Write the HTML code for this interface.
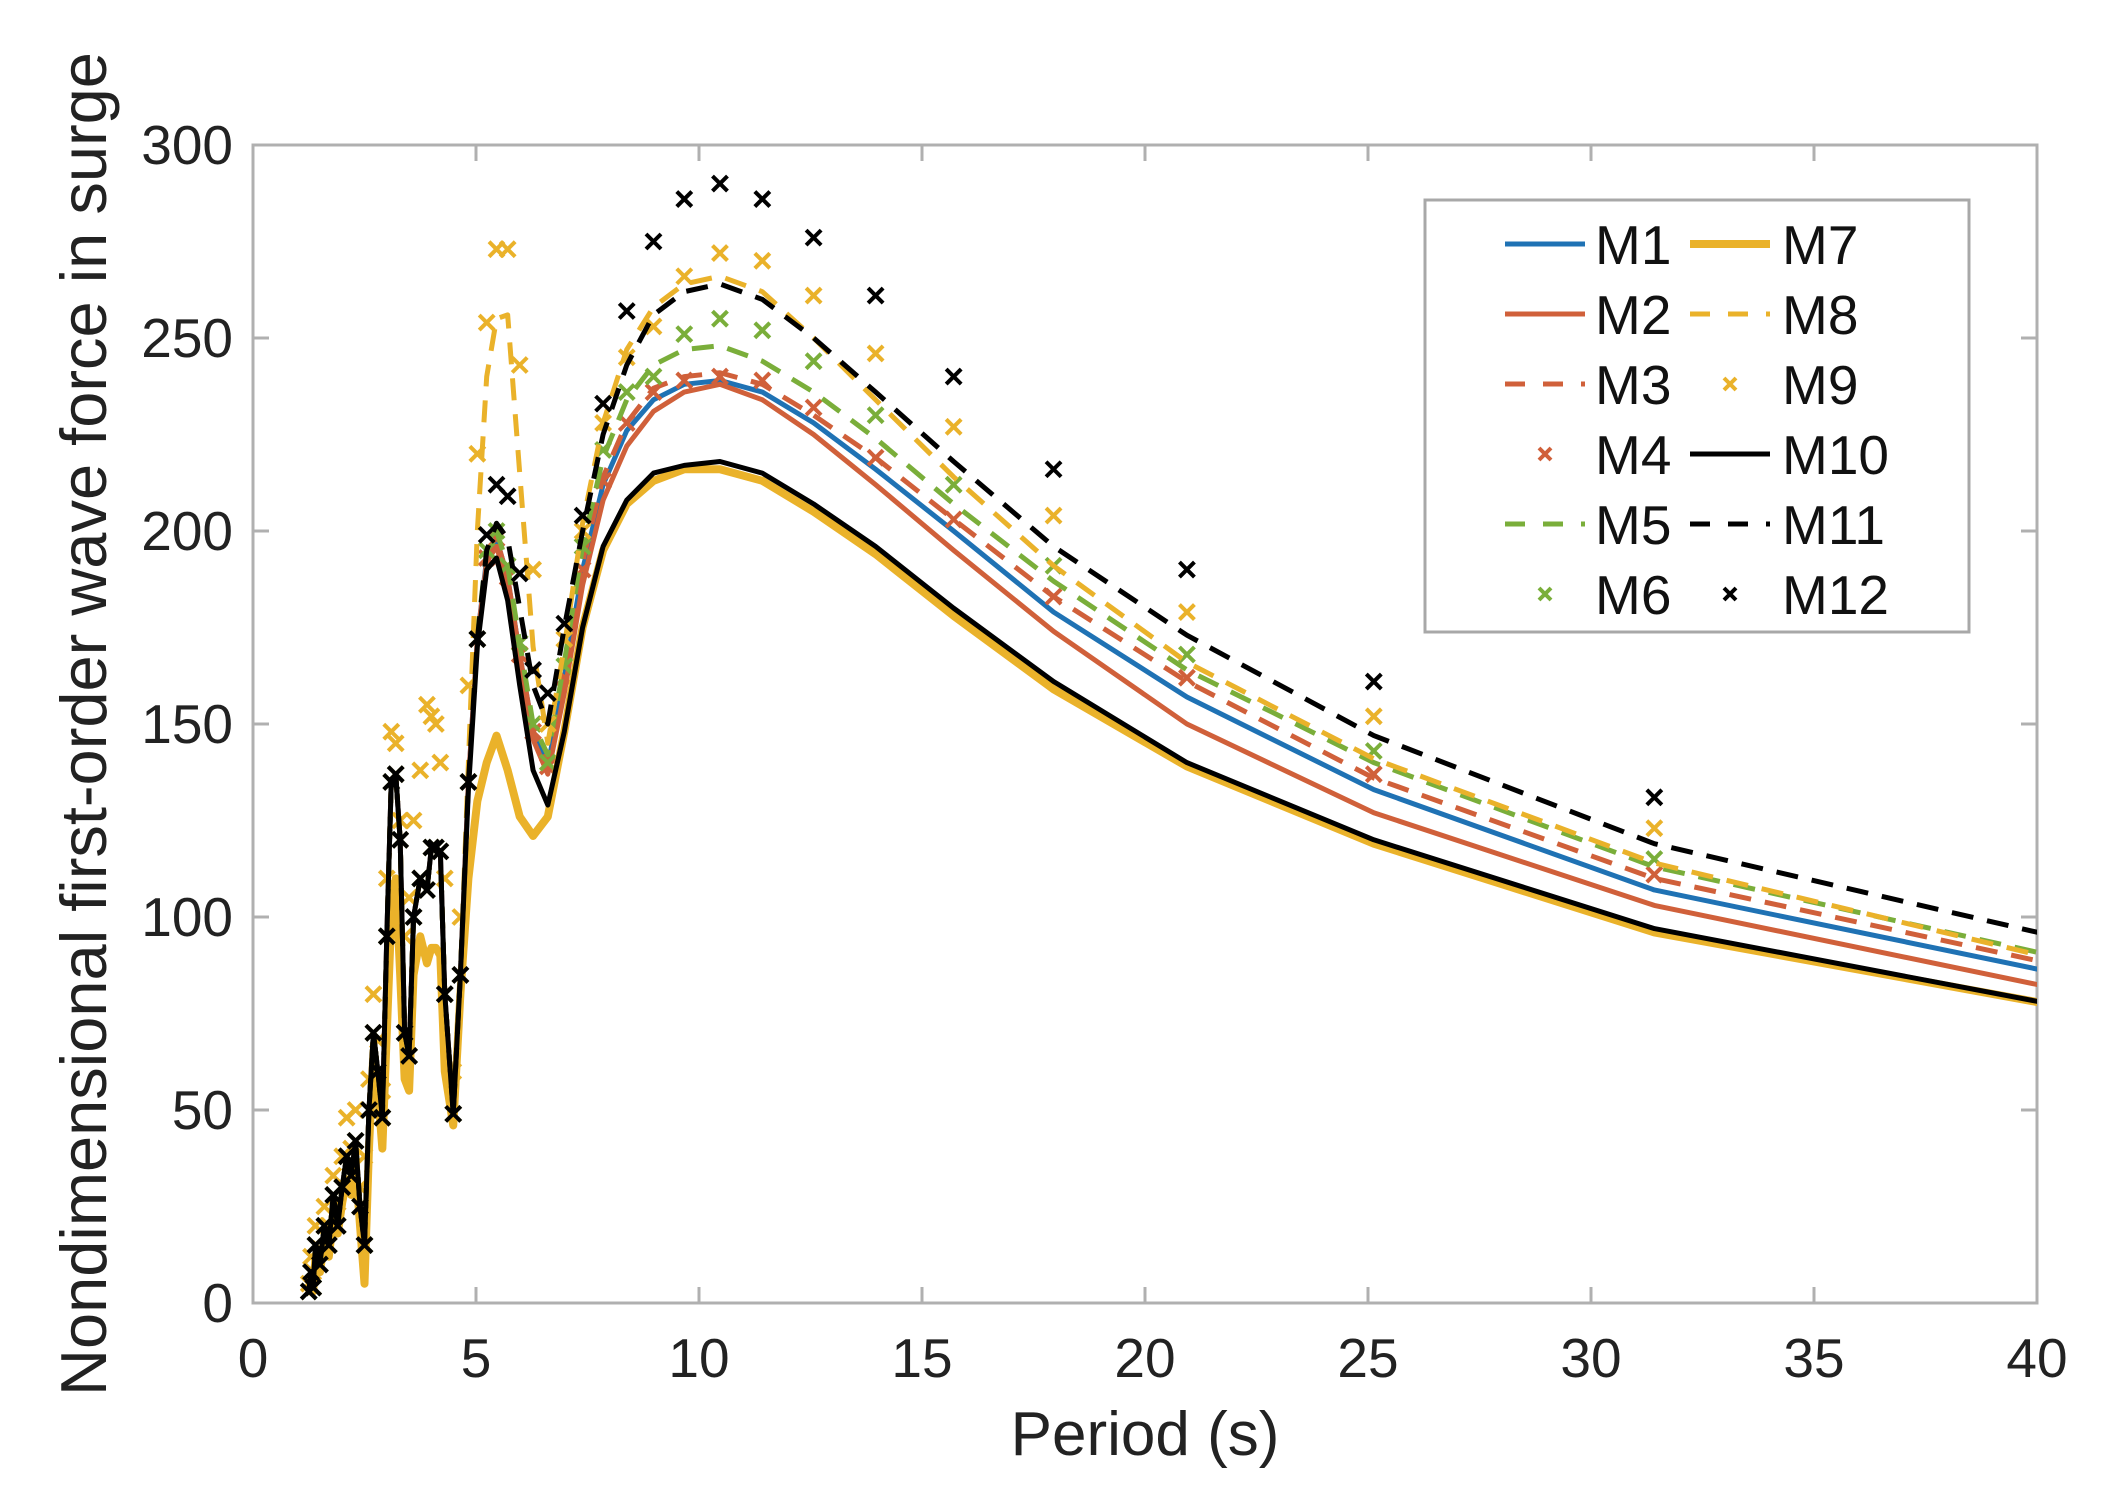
<!DOCTYPE html>
<html><head><meta charset="utf-8"><style>
html,body{margin:0;padding:0;background:#fff;}
svg{display:block;font-family:"Liberation Sans",Arial,sans-serif;}
</style></head><body>
<svg id="chart" width="2121" height="1503" viewBox="0 0 2121 1503" xmlns="http://www.w3.org/2000/svg">
<defs><clipPath id="plotclip"><rect x="253" y="145" width="1784" height="1158"/></clipPath></defs>
<rect x="0" y="0" width="2121" height="1503" fill="#fff"/>
<g id="axes"></g>
<g id="series" clip-path="url(#plotclip)"></g>
<g id="legend"></g>
<text x="1145" y="1455" font-size="62" text-anchor="middle" fill="#222">Period (s)</text>
<text transform="translate(106,724) rotate(-90)" font-size="65" text-anchor="middle" fill="#222">Nondimensional first-order wave force in surge</text>
</svg>
<script>
const xTicks = [0,5,10,15,20,25,30,35,40];
const yTicks = [0,50,100,150,200,250,300];
const periods = [1.25,1.3,1.35,1.4,1.5,1.6,1.7,1.8,1.9,2.0,2.1,2.2,2.3,2.4,2.5,2.6,2.7,2.8,2.9,3.0,3.1,3.2,3.3,3.4,3.5,3.6,3.75,3.9,4.0,4.1,4.2,4.3,4.49,4.65,
 4.83,5.03,5.24,5.46,5.71,5.98,6.28,6.61,6.98,7.39,7.85,8.38,8.98,9.67,10.47,11.42,12.57,13.96,15.71,17.95,20.94,25.13,31.42,41.89];
const lowShared = [3,8,4,15,10,20,15,28,20,30,38,33,42,25,15,50,70,60,48,95,135,137,120,70,64,100,110,107,118,118,117,80,49,85];
const lowM7 = [2,6,3,12,8,16,12,22,18,26,32,28,36,20,5,40,65,55,40,70,100,110,85,58,55,85,95,88,92,92,90,60,46,80];
const lowM9 = [5,12,8,20,14,25,20,33,26,38,48,40,50,30,38,58,80,68,55,110,148,145,125,95,105,125,138,155,152,150,140,110,60,100];
const m1 = lowShared.concat([135,172,193,198,188,168,148,139,162,190,212,226,234,238,239,236,228,216,200,179,157,133,107,82]);
const m2 = lowShared.concat([135,172,192,196,186,166,146,137,158,186,208,222,231,236,238,234,225,212,195,174,150,127,103,78]);
const m3 = lowShared.concat([135,172,193,198,188,168,148,140,163,192,214,228,237,240,241,238,230,219,203,183,161,136,110,84]);
const m4 = lowShared.concat([135,172,193,198,188,168,148,139,162,190,213,228,236,239,240,239,232,219,203,183,162,137,111,85]);
const m5 = lowShared.concat([136,173,195,200,191,171,150,142,166,196,219,234,243,247,248,244,236,224,207,187,164,140,113,86]);
const m6 = lowShared.concat([135,172,195,200,191,171,150,140,165,196,221,236,240,251,255,252,244,230,212,191,168,143,115,88]);
const m7 = lowM7.concat([110,130,140,147,138,126,121,126,148,175,195,207,213,216,216,213,205,194,178,159,139,119,96,74]);
const m8 = lowShared.concat([140,200,240,255,256,215,170,145,170,202,228,247,258,264,266,262,250,234,214,191,166,141,114,85]);
const m9 = lowM9.concat([160,220,254,273,273,243,190,150,172,200,228,245,253,266,272,270,261,246,227,204,179,152,123,95]);
const m10 = lowShared.concat([133,170,190,193,182,160,138,129,148,175,196,208,215,217,218,215,207,196,180,161,140,120,97,74]);
const m11 = lowShared.concat([135,172,195,202,198,180,160,150,175,200,225,243,256,262,264,260,250,236,218,196,173,147,119,91]);
const m12 = lowShared.concat([135,172,199,212,209,189,164,158,176,204,233,257,275,286,290,286,276,261,240,216,190,161,131,100]);

const X0=253,X1=2037,Y0=1303,Y1=145;
const sx = v => X0 + (v-0)/(40-0)*(X1-X0);
const sy = v => Y0 - (v-0)/(300-0)*(Y0-Y1);
const NS="http://www.w3.org/2000/svg";
function mk(tag, parent){const e=document.createElementNS(NS,tag);parent.appendChild(e);return e;}

const axes=document.getElementById('axes');
const box=mk('rect',axes);


box.setAttribute('x',X0);box.setAttribute('y',Y1);box.setAttribute('width',X1-X0);box.setAttribute('height',Y0-Y1);
box.setAttribute('fill','none');box.setAttribute('stroke','#b0b0b0');box.setAttribute('stroke-width','3');
xTicks.forEach(t=>{
  const x=sx(t);
  [[Y0,Y0-16],[Y1,Y1+16]].forEach(p=>{
    const l=mk('line',axes);
    
    
    l.setAttribute('x1',x);l.setAttribute('x2',x);l.setAttribute('y1',p[0]);l.setAttribute('y2',p[1]);
    l.setAttribute('stroke','#b0b0b0');l.setAttribute('stroke-width','3');
  });
  const tx=mk('text',axes);
  
  
  tx.setAttribute('x',x);tx.setAttribute('y',1377);tx.setAttribute('font-size','55');
  tx.setAttribute('text-anchor','middle');tx.setAttribute('fill','#222');tx.textContent=t;
});
yTicks.forEach(t=>{
  const y=sy(t);
  [[X0,X0+16],[X1,X1-16]].forEach(p=>{
    const l=mk('line',axes);
    
    
    l.setAttribute('x1',p[0]);l.setAttribute('x2',p[1]);l.setAttribute('y1',y);l.setAttribute('y2',y);
    l.setAttribute('stroke','#b0b0b0');l.setAttribute('stroke-width','3');
  });
  const tx=mk('text',axes);
  
  
  tx.setAttribute('x',233);tx.setAttribute('y',y+19);tx.setAttribute('font-size','55');
  tx.setAttribute('text-anchor','end');tx.setAttribute('fill','#222');tx.textContent=t;
});

const BLUE='#1f72b4',ORANGE='#d0603a',GREEN='#7aae3a',YEL='#eab22a',BLK='#000';
const seriesDefs=[
 {n:'M1',d:m1,c:BLUE,t:'line',w:5,dash:null},
 {n:'M2',d:m2,c:ORANGE,t:'line',w:5,dash:null},
 {n:'M3',d:m3,c:ORANGE,t:'line',w:5,dash:'22 14'},
 {n:'M4',d:m4,c:ORANGE,t:'mark'},
 {n:'M5',d:m5,c:GREEN,t:'line',w:5,dash:'22 14'},
 {n:'M6',d:m6,c:GREEN,t:'mark'},
 {n:'M7',d:m7,c:YEL,t:'line',w:8,dash:null},
 {n:'M8',d:m8,c:YEL,t:'line',w:5,dash:'22 14'},
 {n:'M9',d:m9,c:YEL,t:'mark'},
 {n:'M10',d:m10,c:BLK,t:'line',w:5,dash:null},
 {n:'M11',d:m11,c:BLK,t:'line',w:5,dash:'22 14'},
 {n:'M12',d:m12,c:BLK,t:'mark'}
];
const sg=document.getElementById('series');
function xmark(parent,x,y,c,s){
  const p=mk('path',parent);
  
  
  p.setAttribute('d',`M${x-s},${y-s}L${x+s},${y+s}M${x-s},${y+s}L${x+s},${y-s}`);
  p.setAttribute('stroke',c);p.setAttribute('stroke-width','4');
}
seriesDefs.forEach(s=>{
  const g=mk('g',sg);
  
  
  if(s.t==='line'){
    const pl=mk('polyline',g);
    
    
    pl.setAttribute('points',periods.map((p,i)=>sx(p)+','+sy(s.d[i])).join(' '));
    pl.setAttribute('fill','none');pl.setAttribute('stroke',s.c);pl.setAttribute('stroke-width',s.w);
    pl.setAttribute('stroke-linejoin','round');
    if(s.dash)pl.setAttribute('stroke-dasharray',s.dash);
  } else {
    periods.forEach((p,i)=>{ if(p<=40) xmark(g,sx(p),sy(s.d[i]),s.c,7.5); });
  }
});

const lg=document.getElementById('legend');
const lb=mk('rect',lg);


lb.setAttribute('x',1425);lb.setAttribute('y',200);lb.setAttribute('width',544);lb.setAttribute('height',432);
lb.setAttribute('fill','#fff');lb.setAttribute('stroke','#a8a8a8');lb.setAttribute('stroke-width','3');
const rowY=[244,314,384,454,524,594];
seriesDefs.forEach((s,i)=>{
  const col=i<6?0:1,row=i%6;
  const lx0=col?1690:1505, lx1=col?1770:1585, tx=col?1782:1595, y=rowY[row];
  const e=mk('g',lg);
  
  
  if(s.t==='line'){
    const l=mk('line',e);
    
    
    l.setAttribute('x1',lx0);l.setAttribute('x2',lx1);l.setAttribute('y1',y);l.setAttribute('y2',y);
    l.setAttribute('stroke',s.c);l.setAttribute('stroke-width',s.w);
    if(s.dash)l.setAttribute('stroke-dasharray','20 18');
  } else {
    xmark(e,(lx0+lx1)/2,y,s.c,6);
  }
  const t=mk('text',e);
  
  
  t.setAttribute('x',tx);t.setAttribute('y',y+20);t.setAttribute('font-size','55');t.setAttribute('fill','#111');
  t.textContent=s.n;
});
</script>
</body></html>
